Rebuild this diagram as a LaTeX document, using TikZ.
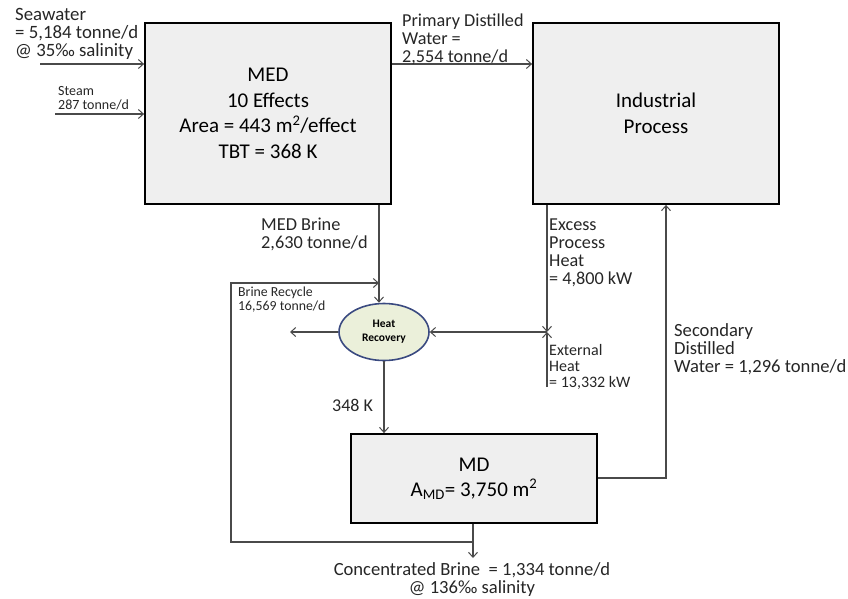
\documentclass[tikz,border=0pt]{standalone}
\usepackage{fontspec}
\setmainfont{Carlito}
\usetikzlibrary{arrows.meta,shapes.geometric}
\definecolor{boxfill}{HTML}{EFEFEF}
\definecolor{linec}{HTML}{4A4A4A}
\definecolor{hrfill}{HTML}{EBF0DA}
\definecolor{hrdraw}{HTML}{3A4A80}
\newcommand\fsz[2]{\fontsize{#1}{#2}\selectfont}
\tikzset{
  unitbox/.style={draw=black, line width=1.8pt, fill=boxfill, rectangle, inner sep=0pt, align=center},
  flow/.style={draw=linec, line width=1.1pt, -{Straight Barb[length=5pt,width=9pt,line width=1pt]}},
  lab/.style={inner sep=0pt, align=left, anchor=west, text=black!85},
}
\begin{document}
\begin{tikzpicture}[x=1pt,y=-1pt]
\useasboundingbox (0,0) rectangle (848,598);
% units
\node[unitbox, minimum width=246pt, minimum height=181pt, font=\fsz{21}{25.5}] (med) at (268,113.5)
  {MED\\10 Effects\\Area = 443 m\textsuperscript{2}/effect\\TBT = 368 K};
\node[unitbox, minimum width=246pt, minimum height=181pt, font=\fsz{21}{26}] (ind) at (656,113.5)
  {Industrial\\Process};
\node[unitbox, minimum width=246pt, minimum height=89pt, font=\fsz{21}{25}] (md) at (474,478.5)
  {MD\\A\textsubscript{MD}= 3,750 m\textsuperscript{2}};
\node[ellipse, draw=hrdraw, line width=1.6pt, fill=hrfill, minimum width=90pt, minimum height=57pt, inner sep=0pt, align=center, font=\fsz{11.5}{14}\bfseries] (hr) at (384,332)
  {Heat\\Recovery};
% coordinates
\coordinate (swin) at (40,64);
\coordinate (stin) at (55,114);
\coordinate (jct) at (547,332);
\coordinate (extin) at (547,387);
\coordinate (hrout) at (290,332);
\coordinate (recA) at (473,542);
\coordinate (recB) at (231,542);
\coordinate (recC) at (231,283);
\coordinate (recD) at (379,283);
\coordinate (brout) at (473,558);
\coordinate (secA) at (666,478);
% connectors
\draw[flow] (swin) -- (swin -| med.west);
\draw[flow] (stin) -- (stin -| med.west);
\draw[flow] (med.east |- swin) -- (ind.west |- swin);
\draw[flow] (recD |- med.south) -- (recD |- hr.north);
\draw[flow] (jct |- ind.south) -- (jct);
\draw[flow] (extin) -- (jct);
\draw[flow] (jct) -- (hr.east);
\draw[flow] (hr.west) -- (hrout);
\draw[flow] (hr.south) -- (hr.south |- md.north);
\draw[flow] (recA |- md.south) -- (brout);
\draw[flow] (recA) -- (recB) -- (recC) -- (recD);
\draw[flow] (md.east |- secA) -- (secA) -- (secA |- ind.south);
% labels
\node[lab, font=\fsz{18.8}{18.3}] (lsw) at (15,34) {Seawater\\= 5,184 tonne/d\\@ 35‰ salinity};
\node[lab, font=\fsz{14}{14}] (lst) at (58,98) {Steam\\287 tonne/d};
\node[lab, font=\fsz{18.2}{18}] (lpd) at (402,39) {Primary Distilled\\Water =\\2,554 tonne/d};
\node[lab, font=\fsz{18.3}{18}] (lmb) at (261,234) {MED Brine\\2,630 tonne/d};
\node[lab, font=\fsz{13.8}{14}] (lbr) at (238,300) {Brine Recycle\\16,569 tonne/d};
\node[lab, font=\fsz{18.2}{18}] (lex) at (549,253) {Excess\\Process\\Heat\\= 4,800 kW};
\node[lab, font=\fsz{16}{16}] (lext) at (549,367) {External\\Heat\\= 13,332 kW};
\node[lab, font=\fsz{18.6}{18}] (lsec) at (674,349) {Secondary\\Distilled\\Water = 1,296 tonne/d};
\node[lab, font=\fsz{18}{18}] (lk) at (332,405) {348 K};
\node[inner sep=0pt, align=center, text=black!85, font=\fsz{18.6}{18}] (lcb) at (472,580) {Concentrated Brine \ = 1,334 tonne/d\\@ 136‰ salinity};
\end{tikzpicture}
\end{document}
